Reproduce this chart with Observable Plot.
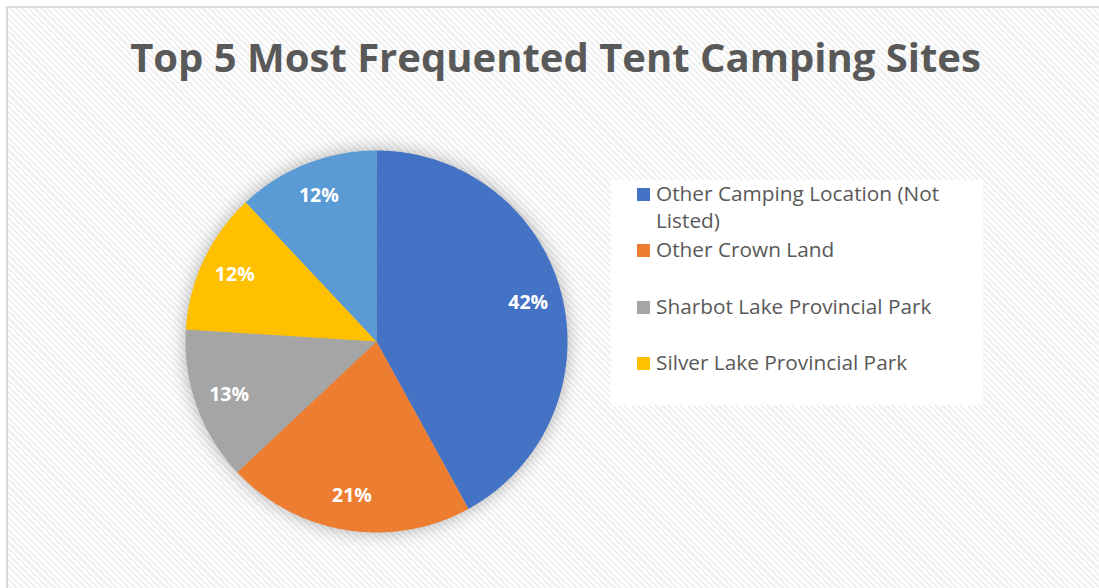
<!DOCTYPE html>
<html>
<head>
<meta charset="utf-8">
<script src="https://cdn.jsdelivr.net/npm/d3@7"></script>
<script src="https://cdn.jsdelivr.net/npm/@observablehq/plot@0.6"></script>
<style>
  html, body { margin: 0; padding: 0; background: #fff; }
  body { width: 1099px; height: 588px; overflow: hidden; position: relative; font-family: "Open Sans", "Noto Sans", sans-serif; }
  #frame {
    position: absolute; left: 6px; top: 6px; width: 1200px; height: 700px;
    border: 2px solid #d9d9d9;
    background: repeating-linear-gradient(45deg, #ffffff 0px, #ffffff 2.2px, #f1f1f1 2.2px, #f1f1f1 4.4px);
  }
  #title {
    position: absolute; left: 0; top: 32px; width: 1111px; text-align: center;
    font-weight: 700; font-size: 40px; line-height: 50px; color: #595959;
  }
  #chart { position: absolute; left: 0; top: 110px; }
  #legend {
    position: absolute; left: 611px; top: 180px; width: 372px; height: 225px; background: #fff;
  }
  .item { position: absolute; left: 26px; font-size: 20.8px; line-height: 27px; color: #595959; }
  .sw { position: absolute; left: 0; top: 8px; width: 13px; height: 13px; }
  .lab { position: absolute; left: 19px; top: 0; width: 300px; white-space: normal; }
</style>
</head>
<body>
<div id="frame"></div>
<div id="title">Top 5 Most Frequented Tent Camping Sites</div>
<div id="chart"></div>
<div id="legend"></div>
<script>
const categories = [
  "Other Camping Location (Not Listed)",
  "Other Crown Land",
  "Sharbot Lake Provincial Park",
  "Silver Lake Provincial Park",
  "Fifth site (not shown in legend)"
];
const values = [42, 21, 13, 12, 12];
const colors = ["#4472C4", "#ED7D31", "#A5A5A5", "#FFC000", "#5B9BD5"];
const legendShown = 4;

const total = d3.sum(values);
const arcs = d3.pie().sort(null).value(d => d)(values);

// slice outlines in unit-circle data space
const pts = [];
arcs.forEach((a, i) => {
  pts.push({cat: categories[i], x: 0, y: 0});
  const n = Math.max(2, Math.ceil((a.endAngle - a.startAngle) / 0.01));
  for (let k = 0; k <= n; k++) {
    const t = a.startAngle + (a.endAngle - a.startAngle) * k / n;
    pts.push({cat: categories[i], x: Math.sin(t), y: Math.cos(t)});
  }
});
const labels = arcs.map((a, i) => {
  const m = (a.startAngle + a.endAngle) / 2;
  return {x: 0.82 * Math.sin(m), y: 0.82 * Math.cos(m), text: Math.round(values[i] / total * 100) + "%"};
});

const W = 1099, H = 478, cx = 376, cy = 231, r = 191;
const plot = Plot.plot({
  width: W, height: H,
  margin: 0,
  style: {background: "transparent", overflow: "visible"},
  x: {domain: [-1, 1], range: [cx - r, cx + r], axis: null},
  y: {domain: [-1, 1], range: [cy + r, cy - r], axis: null},
  color: {domain: categories, range: colors},
  marks: [
    Plot.line(pts, {x: "x", y: "y", z: "cat", fill: "cat", stroke: "none", curve: "linear-closed"}),
    Plot.text(labels, {x: "x", y: "y", text: "text", fill: "white", fontSize: 19.5, fontWeight: 700, fontFamily: "Open Sans, sans-serif"})
  ]
});
d3.select(plot).selectAll('g[aria-label="line"]').style("filter", "drop-shadow(0px 0px 9px rgba(0,0,0,0.3))");
document.getElementById("chart").appendChild(plot);

// legend
const legendTops = [0, 56, 113, 169];
const leg = d3.select("#legend");
categories.slice(0, legendShown).forEach((c, i) => {
  const it = leg.append("div").attr("class", "item").style("top", legendTops[i] + "px");
  it.append("div").attr("class", "sw").style("background", colors[i]);
  it.append("div").attr("class", "lab").text(c);
});
</script>
</body>
</html>
